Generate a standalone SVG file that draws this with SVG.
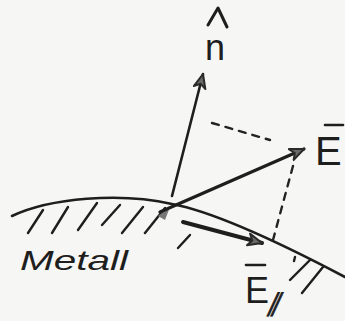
<svg xmlns="http://www.w3.org/2000/svg" width="345" height="321" viewBox="0 0 345 321">
<style>
.ink{fill:none;stroke:#1e1e1e;stroke-linecap:round;stroke-linejoin:round}
.dash{fill:none;stroke:#222;stroke-width:2.4;stroke-dasharray:7 7;stroke-linecap:round}
.lbl{font-family:"Liberation Sans",Arial,sans-serif;fill:#1e1e1e}
</style>
<defs>
<marker id="ah" markerUnits="userSpaceOnUse" markerWidth="20" markerHeight="16" refX="15" refY="7" orient="auto">
<path d="M1,1 L15,7 L1,13 L5,7 z" fill="#6a6a6a" stroke="#2a2a2a" stroke-width="2" stroke-linejoin="round"/>
</marker>
</defs>
<rect width="345" height="321" fill="#f6f6f4"/>
<g id="metal-surface">
<path class="ink" stroke-width="2.6" d="M12 216 C50 198 120 192 172 204 C215 212 290 248 345 277"/>
<g class="ink" stroke-width="2.4">
<line x1="43" y1="210" x2="28" y2="233"/>
<line x1="68" y1="207" x2="52" y2="233"/>
<line x1="97" y1="203" x2="78" y2="230"/>
<line x1="120" y1="205" x2="102" y2="225"/>
<line x1="143" y1="207" x2="122" y2="233"/>
<line x1="165" y1="208" x2="145" y2="233"/>
<line x1="190" y1="235" x2="178" y2="248"/>
<line x1="310" y1="260" x2="290" y2="280"/>
<line x1="323" y1="267" x2="302" y2="293"/>
<line x1="295" y1="257" x2="294" y2="261"/>
</g>
<path d="M158 216 L170 207 L165 220 z" fill="#777"/>
</g>
<g id="connectors">
<line class="ink" stroke-width="2.6" x1="172" y1="196" x2="203" y2="74" marker-end="url(#ah)"/>
<line class="ink" stroke="#333" stroke-width="3.2" x1="160" y1="212" x2="304" y2="149" marker-end="url(#ah)"/>
<line class="ink" stroke="#2a2a2a" stroke-width="4" x1="183" y1="222" x2="262" y2="243" marker-end="url(#ah)"/>
<line class="dash" x1="212" y1="123" x2="270" y2="140"/>
<line class="dash" x1="293" y1="166" x2="273" y2="240"/>
</g>
<g id="label-n">
<polyline class="ink" stroke-width="3" points="208,25 218,8 227,27"/>
<text class="lbl" x="205" y="60" font-size="36">n</text>
</g>
<g id="label-E">
<line class="ink" stroke-width="2.6" x1="325" y1="125" x2="343" y2="125"/>
<text class="lbl" x="315" y="165" font-size="40">E</text>
</g>
<g id="label-Epar">
<line class="ink" stroke-width="2.6" x1="246" y1="265" x2="265" y2="265"/>
<text class="lbl" x="245" y="303" font-size="36">E</text>
<text class="lbl" x="0" y="0" font-size="24" font-family="DejaVu Sans" stroke="#1e1e1e" stroke-width="0.8" transform="translate(266,311) skewX(-25)">∥</text>
</g>
<g id="label-metall">
<text class="lbl" x="20" y="270" font-size="28" font-style="italic" textLength="108" lengthAdjust="spacingAndGlyphs">Metall</text>
</g>
</svg>
